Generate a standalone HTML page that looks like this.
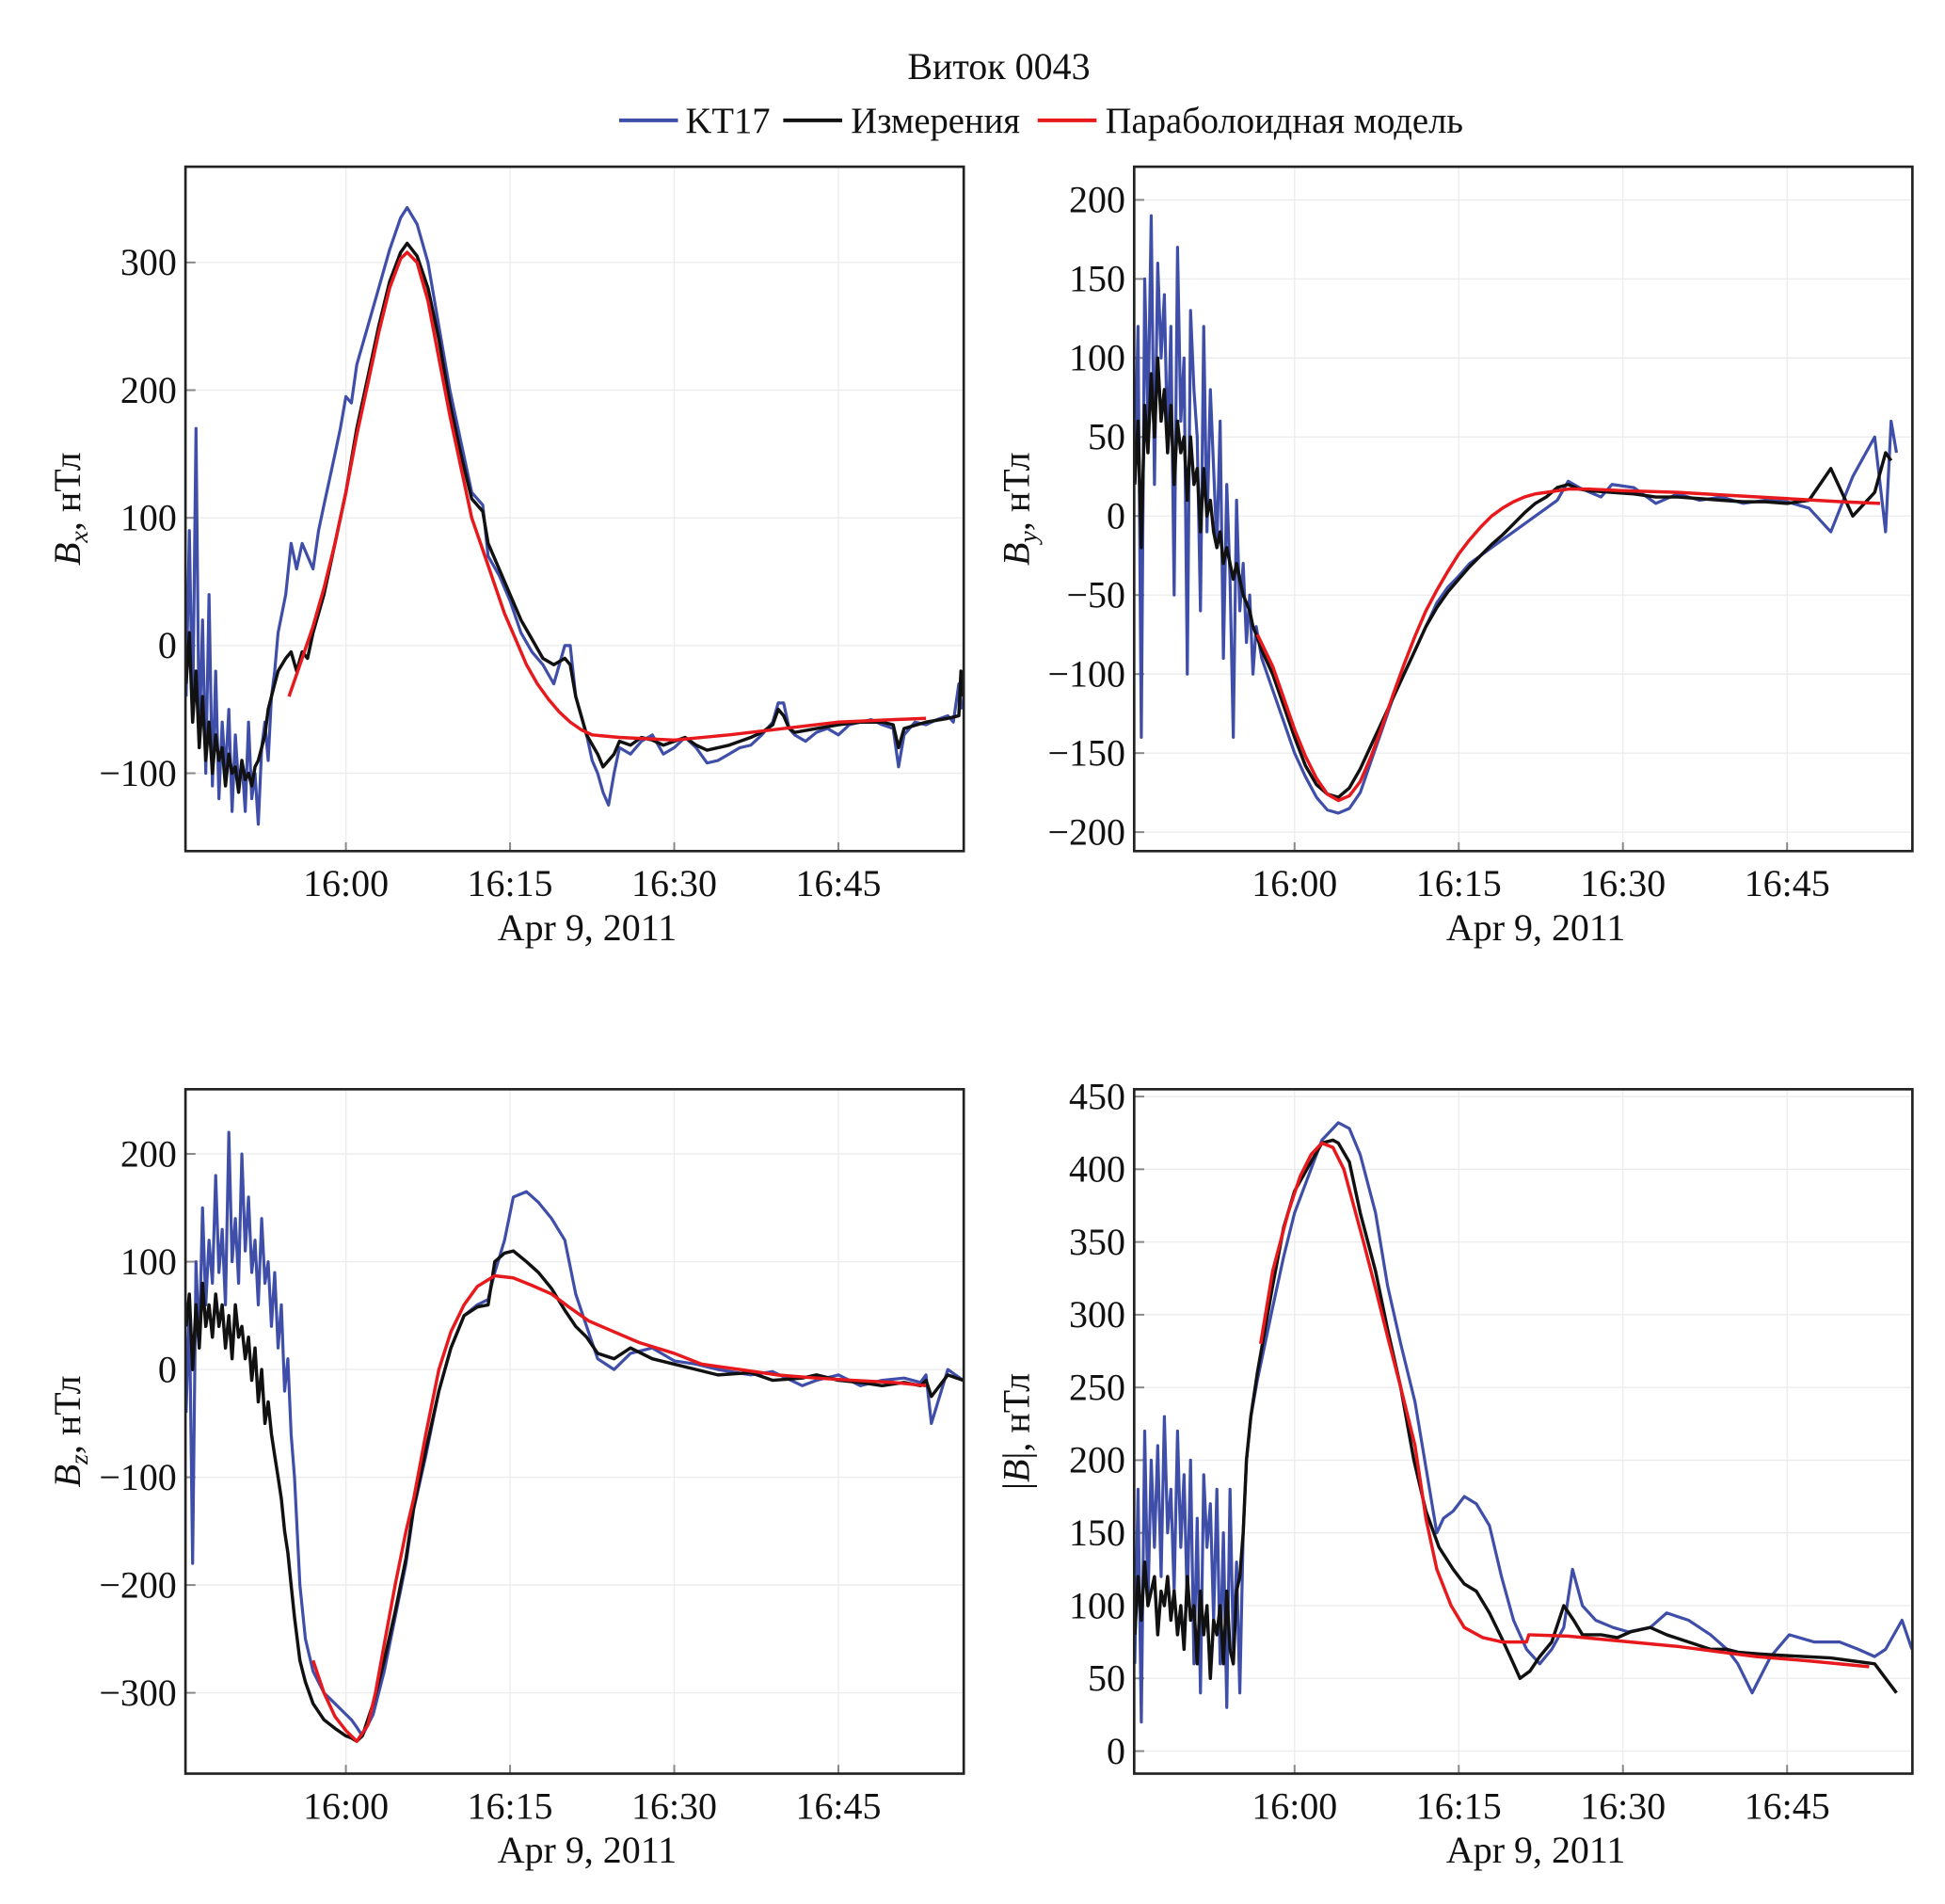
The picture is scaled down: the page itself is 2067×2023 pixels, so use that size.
<!DOCTYPE html>
<html><head><meta charset="utf-8"><style>
html,body{margin:0;padding:0;background:#fff;}
svg{display:block;}
text{font-family:"Liberation Serif","DejaVu Serif",serif;fill:#111;}
</style></head><body>
<svg id="chart" width="2067" height="2023" viewBox="0 0 1552 1519" preserveAspectRatio="none" xmlns="http://www.w3.org/2000/svg">
<text x="797" y="63" font-size="30" text-anchor="middle">Виток 0043</text>
<g>
<line x1="494" y1="96" x2="541" y2="96" stroke="#3f4ea8" stroke-width="3"/>
<text x="547" y="106" font-size="29">KT17</text>
<line x1="625" y1="96" x2="672" y2="96" stroke="#111" stroke-width="3"/>
<text x="679" y="106" font-size="29">Измерения</text>
<line x1="828" y1="96" x2="875" y2="96" stroke="#e8191c" stroke-width="3"/>
<text x="882" y="106" font-size="29">Параболоидная модель</text>
</g>
<g id="panels"></g>
</svg>
<script>
// time in minutes after 15:45, Apr 9 2011
const xTickLabels = ["16:00","16:15","16:30","16:45"];
const xTickTimes = [15,30,45,60];
const noiseT = [0.4,0.7,1.0,1.3,1.6,1.9,2.2,2.5,2.8,3.1,3.4,3.7,4.0,4.3,4.6,4.9,5.2,5.5,5.8,6.1,6.4,6.7,7.0,7.3,7.6,7.9,8.2,8.5,8.8];
const noiseT2 = [0.4,0.7,1.0,1.3,1.6,1.9,2.2,2.5,2.8,3.1,3.4,3.7,4.0,4.3,4.6,4.9,5.2,5.5,5.8,6.1,6.4,6.7,7.0,7.3,7.6,7.9,8.2,8.5,8.8,9.1,9.4,9.7,10.0,10.3];

// ---- Bx ----
const bxTicks = [-100,0,100,200,300];
const bxKtT = noiseT.concat([9.5,10,10.5,11,11.5,12,12.5,13,13.5,14,14.5,15,15.5,16,17,18,19,20,20.6,21.5,22.5,23.5,24.5,25.5,26.5,27.5,28,29,30,31,32,33,34,35,35.5,36,37,37.5,38,38.5,39,39.5,40,41,42,43,44,45,46,47,48,49,50,51,52,53,54,54.5,55,55.5,56,57,58,59,60,61,62,63,64,65,65.5,66,67,68,69,70,70.5,71,71.3]);
const bxKtV = [-40,90,-60,170,-80,20,-100,40,-110,-20,-120,-60,-100,-50,-130,-70,-110,-90,-130,-60,-120,-100,-140,-80,-60,-90,-40,-20,10,
 40,80,60,80,70,60,90,110,130,150,170,195,190,220,250,280,310,335,343,330,300,250,200,160,120,110,70,55,35,10,-5,-15,-30,0,0,-40,-70,-90,-100,-115,-125,-100,-80,-85,-75,-70,-85,-80,-72,-80,-92,-90,-85,-80,-78,-70,-60,-45,-45,-65,-70,-75,-68,-65,-70,-62,-60,-58,-62,-65,-95,-70,-60,-62,-58,-55,-60,-30,-50];
const bxMeT = noiseT.concat([9.5,10,10.5,11,11.5,12,13,14,15,16,17,18,19,20,20.6,21.5,22.5,23.5,24.5,25.5,26.5,27.5,28,29,30,31,32,33,34,35,35.5,36,37,38,38.5,39.5,40,41,42,43,44,45,46,47,48,49,50,51,52,53,54,54.5,55,55.5,56,58,60,62,64,65,65.5,66,68,70,71,71.2,71.4]);
const bxMeV = [-30,10,-60,-20,-80,-40,-90,-60,-100,-70,-90,-80,-110,-85,-100,-95,-115,-90,-105,-100,-110,-95,-90,-80,-70,-50,-40,-30,-20,
 -10,-5,-20,-5,-10,10,40,80,120,170,210,250,285,308,315,305,280,240,190,150,115,105,80,60,40,20,5,-10,-15,-10,-15,-40,-70,-85,-95,-85,-75,-78,-72,-74,-78,-75,-72,-78,-82,-80,-78,-75,-72,-68,-62,-50,-55,-65,-68,-65,-62,-60,-60,-62,-80,-65,-60,-57,-55,-20,-40];
const bxMoT = [9.8,11,12,13,14,15,16,17,18,19,20,20.6,21.5,22.5,23.5,24.5,25.5,26.5,27.5,28.5,29.5,30.5,31.5,32.5,33.5,34.5,35.5,36.5,37.5,40,45,50,55,60,65,68];
const bxMoV = [-40,-10,15,45,80,120,165,205,245,280,303,308,300,270,225,180,140,100,75,50,25,5,-15,-30,-42,-52,-60,-66,-70,-72,-74,-70,-65,-60,-58,-57];

// ---- By ----
const byTicks = [-200,-150,-100,-50,0,50,100,150,200];
const byNoiseT = noiseT2.concat([10.6,10.9,11.2,11.5]);
const byKtT = byNoiseT.concat([12,13,14,15,16,17,18,19,20,21,22,23,24,25,26,27,28,29,30,31,32,33,34,35,36,37,38,39,40,41,42,43,44,46,48,50,52,54,56,58,60,62,64,66,68,69,69.5,70,70.5,71,71.4]);
const byKtV = [30,120,-140,150,60,190,20,160,100,140,40,120,-50,170,60,100,-100,130,80,50,-60,120,-10,80,30,-20,60,-90,20,-40,-140,10,-60,-30,-80,-50,-100,-70,
 -90,-110,-130,-150,-165,-178,-186,-188,-185,-175,-155,-135,-115,-100,-85,-70,-55,-45,-38,-30,-25,-20,-15,-10,-5,0,5,10,22,18,15,12,20,18,8,14,10,12,8,10,9,5,-10,25,50,-10,60,40];
const byMeT = byNoiseT.concat([12,13,14,15,16,17,18,19,20,21,22,23,24,25,26,27,28,29,30,31,32,33,34,35,36,37,38,39,40,41,42,44,46,48,50,52,54,56,58,60,62,64,66,68,69,69.5,70,70.5,71,71.4]);
const byMeV = [20,60,-20,70,40,90,50,100,60,80,40,70,20,60,40,50,10,50,20,30,-10,30,0,10,-10,-20,-10,-30,-20,-30,-40,-30,-40,-50,-55,-60,-70,-75,
 -85,-100,-120,-140,-158,-170,-176,-178,-172,-160,-145,-130,-115,-100,-85,-70,-58,-48,-40,-32,-25,-18,-12,-5,2,8,12,18,20,17,16,15,14,12,12,11,10,9,9,8,10,30,0,15,40,35];
const byMoT = [11.6,13,14,15,16,17,18,19,20,21,22,23,24,25,26,27,28,29,30,31,32,33,34,35,36,37,38,40,42,45,50,55,60,65,68.5];
const byMoV = [-75,-95,-115,-135,-152,-166,-176,-180,-177,-168,-152,-133,-113,-94,-76,-60,-47,-35,-24,-15,-7,0,5,9,12,14,15,17,17,16,15,13,11,9,8];

// ---- Bz ----
const bzTicks = [-300,-200,-100,0,100,200];
const bzKtT = noiseT2.concat([10.8,11.3,12,13,14,15,15.5,16,16.5,17.5,18.5,19.5,20.5,21.2,22.3,23.5,24.6,25.8,27,28,28.6,29.5,30.3,31.5,32.6,33.8,35,36,37,38,39.5,41,43,45,47,49,52,54,56.7,58,60,62,64,66,67.5,68,68.5,70,71.4]);
const bzKtV = [-40,60,-180,100,20,150,60,120,80,180,90,130,60,220,100,140,80,200,110,160,90,120,60,140,80,100,40,90,20,60,-20,10,-60,-100,
 -200,-250,-280,-300,-310,-320,-325,-332,-340,-320,-280,-230,-180,-130,-80,-20,20,50,60,65,90,120,160,165,155,140,120,70,40,10,0,15,20,8,5,0,-5,-2,-15,-10,-5,-15,-10,-8,-12,-5,-50,0,-10,-5];
const bzMeT = noiseT2.concat([10.8,11.3,12,13,14,15,15.5,16,16.5,17.5,18.5,19.5,20.5,21.2,22.3,23.5,24.6,25.8,27,28,28.6,29.5,30.3,31.5,32.6,33.8,35,36,37,38,39.5,41,43,45,47,49,52,54,56.7,58,60,62,64,66,67.5,68,68.5,70,71.4]);
const bzMeV = [40,70,0,60,20,80,40,60,30,70,40,60,20,50,10,60,30,40,10,30,-10,20,-30,0,-50,-30,-60,-80,-100,-120,-150,-170,-200,-230,
 -270,-290,-310,-325,-333,-340,-342,-345,-340,-310,-270,-225,-175,-128,-75,-20,20,50,58,60,100,108,110,100,90,75,55,40,30,15,10,20,10,5,0,-5,-3,-10,-8,-5,-10,-12,-15,-12,-15,-10,-25,-5,-10,-5];
const bzMoT = [12,13,14,15,16,17,17.7,18.5,19.5,20.5,21.2,22.3,23.5,24.6,25.8,27,28.6,30.3,32,33.8,35.5,37.2,39.5,41.8,45,47.5,51,54.4,58,61.3,65,68];
const bzMoV = [-270,-300,-322,-335,-345,-330,-300,-255,-200,-150,-120,-60,0,35,60,77,87,85,78,70,57,45,35,25,15,5,0,-5,-8,-10,-12,-15];

// ---- |B| ----
const bmTicks = [0,50,100,150,200,250,300,350,400,450];
const bmKtT = noiseT2.concat([10.6,11,11.6,12.3,13,14,15,16.5,17.5,18.5,19,20,21,22.4,23.5,24.7,26,27,28,28.6,29.5,30.5,31.6,32.8,33.9,35,36.2,37.4,38.5,39.6,40.4,41.3,42.5,44.1,45.5,47.5,49,51,53,54.5,55.5,56.8,58.5,60.2,62.5,64.8,66.5,68,69,70.5,71.4]);
const bmKtV = [60,180,20,220,100,200,140,210,120,230,150,180,110,220,140,190,100,200,60,160,40,190,140,170,90,180,60,150,30,180,70,130,40,150,
 200,230,255,280,305,340,370,400,420,428,432,428,410,370,320,280,240,195,150,160,165,175,170,155,120,90,70,60,70,85,125,100,90,85,82,85,95,90,80,70,60,40,65,80,75,75,70,65,70,90,70,60,55];
const bmMeT = noiseT2.concat([10.6,11,11.6,12.3,13,14,15,16.5,17.5,18.5,19,20,21,22.4,23.5,24.7,25.9,27,28.2,29.5,30.5,31.6,32.8,33.9,35,35.6,36.5,37.4,38.5,39.6,40.5,41.3,43,44.5,45.7,47.5,49,51,53,54.5,55.5,57.2,59,61.6,64,66,68,69,70,70.5,71.4]);
const bmMeV = [80,120,90,130,100,110,120,80,110,100,120,90,110,80,100,70,120,90,100,60,110,80,100,50,90,80,100,60,110,70,60,110,120,150,
 200,230,260,290,320,360,385,405,418,420,418,405,370,330,290,250,200,165,140,125,115,110,95,78,60,50,55,65,75,100,90,80,80,78,82,85,80,75,70,70,68,67,66,65,64,62,60,50,40];
const bmMoT = [11.9,13,14.4,15.5,16.5,17.5,18.5,19.5,21.3,22.5,23.5,24.7,26,27,28,29.3,30.5,32.2,34,36.2,36.4,40,45.7,50,54,57.2,62,67.5];
const bmMoV = [280,330,370,395,410,418,415,400,350,315,285,250,210,160,125,100,85,78,75,75,80,79,75,72,68,65,62,58];

const panels = [
 {name:'bx', x0:148, x1:769, y0:133, y1:679, vmin:-161, vmax:375, ticks:bxTicks, label:'x',
  series:[[bxKtT,bxKtV,'#3f4ea8'],[bxMeT,bxMeV,'#111'],[bxMoT,bxMoV,'#e8191c']]},
 {name:'by', x0:905, x1:1526, y0:133, y1:679, vmin:-212, vmax:221, ticks:byTicks, label:'y',
  series:[[byKtT,byKtV,'#3f4ea8'],[byMeT,byMeV,'#111'],[byMoT,byMoV,'#e8191c']]},
 {name:'bz', x0:148, x1:769, y0:869, y1:1415, vmin:-375, vmax:260, ticks:bzTicks, label:'z',
  series:[[bzKtT,bzKtV,'#3f4ea8'],[bzMeT,bzMeV,'#111'],[bzMoT,bzMoV,'#e8191c']]},
 {name:'bmag', x0:905, x1:1526, y0:869, y1:1415, vmin:-15.5, vmax:455, ticks:bmTicks, label:null,
  series:[[bmKtT,bmKtV,'#3f4ea8'],[bmMeT,bmMeV,'#111'],[bmMoT,bmMoV,'#e8191c']]}
];
const seriesNames = ['kt17-line','measurements-line','paraboloid-model-line'];
const NS = 'http://www.w3.org/2000/svg';
const root = document.getElementById('panels');
function mk(tag, attrs, parent){const e=document.createElementNS(NS,tag);for(const k in attrs)e.setAttribute(k,attrs[k]);parent.appendChild(e);return e;}

panels.forEach(p=>{
  const g = mk('g',{},root);
  
  
  const xS = t => p.x0 + 128 + (t-15)*(131/15);
  const yS = v => p.y1 - (v-p.vmin)/(p.vmax-p.vmin)*(p.y1-p.y0);
  xTickTimes.forEach((t,i)=>{
    const x=xS(t);
    const gl=mk('line',{x1:x,x2:x,y1:p.y0,y2:p.y1,stroke:'#ececec','stroke-width':1},g);
    
    
    const tk=mk('line',{x1:x,x2:x,y1:p.y1,y2:p.y1-7,stroke:'#888','stroke-width':1.5},g);
    
    
    const tl=mk('text',{x:x,y:p.y1+36,'font-size':30,'text-anchor':'middle'},g);
    tl.textContent=xTickLabels[i];
    
    
  });
  p.ticks.forEach(v=>{
    const y=yS(v);
    const gl=mk('line',{x1:p.x0,x2:p.x1,y1:y,y2:y,stroke:'#ececec','stroke-width':1},g);
    
    
    const tk=mk('line',{x1:p.x0,x2:p.x0+8,y1:y,y2:y,stroke:'#888','stroke-width':1.5},g);
    
    
    const tl=mk('text',{x:p.x0-7,y:y+10,'font-size':30,'text-anchor':'end'},g);
    tl.textContent = v<0 ? '\u2212'+Math.abs(v) : String(v);
    
    
  });
  const cp = mk('clipPath',{id:'clip-'+p.name},g);
  mk('rect',{x:p.x0,y:p.y0,width:p.x1-p.x0,height:p.y1-p.y0},cp);
  p.series.forEach((s,i)=>{
    const [T,V,col]=s;
    let d='';
    for(let k=0;k<Math.min(T.length,V.length);k++){d+=(k?'L':'M')+xS(T[k]).toFixed(1)+','+yS(V[k]).toFixed(1);}
    const path=mk('path',{d:d,fill:'none',stroke:col,'stroke-width':i===0?2.4:2.6,'stroke-linejoin':'round','clip-path':'url(#clip-'+p.name+')'},g);
    
    
  });
  const fr=mk('rect',{x:p.x0,y:p.y0,width:p.x1-p.x0,height:p.y1-p.y0,fill:'none',stroke:'#222','stroke-width':2},g);
  
  
  const xl=mk('text',{x:(p.x0+p.x1)/2 + 10,y:p.y1+71,'font-size':30,'text-anchor':'middle'},g);
  xl.textContent='Apr 9, 2011';
  
  
  const cy=(p.y0+p.y1)/2;
  const lx=p.x0-84;
  const yl=mk('text',{x:lx,y:cy,'font-size':30,'text-anchor':'middle',transform:'rotate(-90 '+lx+' '+cy+')'},g);
  
  
  if(p.label){
    const a=mk('tspan',{'font-style':'italic'},yl);a.textContent='B';
    const b=mk('tspan',{'font-style':'italic','font-size':21,dy:6},yl);b.textContent=p.label;
    const c=mk('tspan',{dy:-6},yl);c.textContent=', нТл';
  } else {
    const a=mk('tspan',{},yl);a.textContent='|';
    const b=mk('tspan',{'font-style':'italic'},yl);b.textContent='B';
    const c=mk('tspan',{},yl);c.textContent='|, нТл';
  }
});
</script>
</body></html>
